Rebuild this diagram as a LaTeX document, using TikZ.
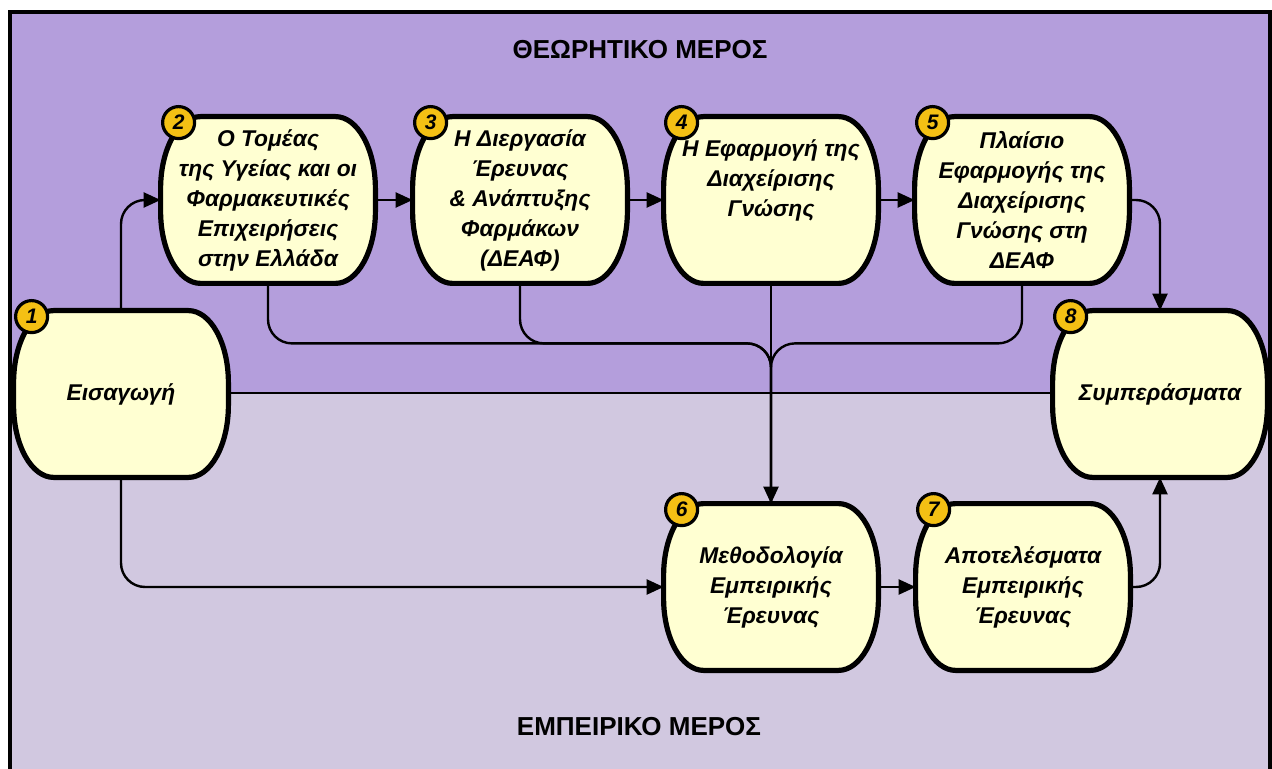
\documentclass[tikz,border=0pt]{standalone}
\usepackage{fontspec}
\setmainfont{Liberation Sans}
\usetikzlibrary{calc,arrows.meta}
\pgfdeclarelayer{back}
\pgfdeclarelayer{background}
\pgfsetlayers{back,background,main}
\definecolor{toppurple}{HTML}{B49EDC}
\definecolor{lowpurple}{HTML}{D1C8E0}
\definecolor{stagefill}{HTML}{FFFFD2}
\definecolor{badgeyellow}{HTML}{F4C014}
\tikzset{
  stage/.style={minimum width=107pt,minimum height=83pt,inner sep=0pt,align=center,
    font=\bfseries\itshape\fontsize{11.4}{15}\selectfont},
  badge/.style={circle,draw,line width=1.6pt,fill=badgeyellow,minimum size=16pt,inner sep=0pt,
    font=\bfseries\itshape\fontsize{10.5}{12}\selectfont},
  heading/.style={font=\bfseries\fontsize{13}{16}\selectfont},
  flow/.style={line width=1.2pt,rounded corners=12pt,-{Triangle[length=8.5pt,width=7.5pt]}},
  link/.style={line width=1.2pt,rounded corners=12pt},
}
\begin{document}
\begin{tikzpicture}[x=0.5pt,y=-0.5pt]
\pgfmathsetmacro{\rx}{20} % raggio orizzontale angoli
\pgfmathsetmacro{\ry}{36} % raggio verticale angoli
\useasboundingbox (0,0) rectangle (1272,769);

\begin{pgfonlayer}{back}
\fill[white] (0,0) rectangle (1272,769);
\fill[toppurple] (10,12) rectangle (1270,393); % θεωρητικό μέρος
\fill[lowpurple] (10,393) rectangle (1270,769); % εμπειρικό μέρος
\draw[line width=1pt] (10,393) -- (1270,393);
\draw[line width=1.8pt] (10,769) -- (10,12) -- (1270,12) -- (1270,769);
\end{pgfonlayer}

\node[heading] (toptitle) at (640,50) {ΘΕΩΡΗΤΙΚΟ ΜΕΡΟΣ};
\node[heading] (bottitle) at (639,727) {ΕΜΠΕΙΡΙΚΟ ΜΕΡΟΣ};

\node[stage] (n1) at (121,394) {Εισαγωγή};
\node[stage] (n2) at (268,200) {Ο Τομέας\\της Υγείας και οι\\Φαρμακευτικές\\Επιχειρήσεις\\στην Ελλάδα};
\node[stage] (n3) at (520,200) {Η Διεργασία\\Έρευνας\\\& Ανάπτυξης\\Φαρμάκων\\(ΔΕΑΦ)};
\node[stage] (n4) at (771,200) {Η Εφαρμογή της\\Διαχείρισης\\Γνώσης\\[7pt]\mbox{}};
\node[stage] (n5) at (1022,200) {Πλαίσιο\\Εφαρμογής της\\Διαχείρισης\\Γνώσης στη\\ΔΕΑΦ};
\node[stage] (n6) at (771,587) {Μεθοδολογία\\Εμπειρικής\\Έρευνας};
\node[stage] (n7) at (1023,587) {Αποτελέσματα\\Εμπειρικής\\Έρευνας};
\node[stage] (n8) at (1160,394) {Συμπεράσματα};

\begin{pgfonlayer}{background}
\foreach \n in {n1,n2,n3,n4,n5,n6,n7,n8}
  \draw[line width=2.6pt,fill=stagefill]
    ($(\n.north west)+(\rx pt,0pt)$) -- ($(\n.north east)+(-\rx pt,0pt)$)
    arc[start angle=90,end angle=0,x radius=\rx pt,y radius=\ry pt]
    -- ($(\n.south east)+(0pt,\ry pt)$)
    arc[start angle=0,end angle=-90,x radius=\rx pt,y radius=\ry pt]
    -- ($(\n.south west)+(\rx pt,0pt)$)
    arc[start angle=270,end angle=180,x radius=\rx pt,y radius=\ry pt]
    -- ($(\n.north west)+(0pt,-\ry pt)$)
    arc[start angle=180,end angle=90,x radius=\rx pt,y radius=\ry pt] -- cycle;
\end{pgfonlayer}

\foreach \i in {1,...,8} % αριθμοί
  \node[badge] (b\i) at ($(n\i.north west)+(9pt,-3pt)$) {\i};

\coordinate (jn) at ($(n4.south)+(0,60)$); % σημείο συμβολής
\draw[flow] (n1.north) |- (n2.west);
\draw[flow] (n2) -- (n3);
\draw[flow] (n3) -- (n4);
\draw[flow] (n4) -- (n5);
\draw[flow] (n5.east) -| (n8.north);
\draw[link] (n2.south) |- (jn) -- (n6.north);
\draw[link] (n3.south) |- (jn) -- (n6.north);
\draw[link] (n5.south) |- (jn) -- (n6.north);
\draw[flow] (n4.south) -- (n6.north);
\draw[flow] (n1.south) |- (n6.west);
\draw[flow] (n6) -- (n7);
\draw[flow] (n7.east) -| (n8.south);
\end{tikzpicture}
\end{document}
